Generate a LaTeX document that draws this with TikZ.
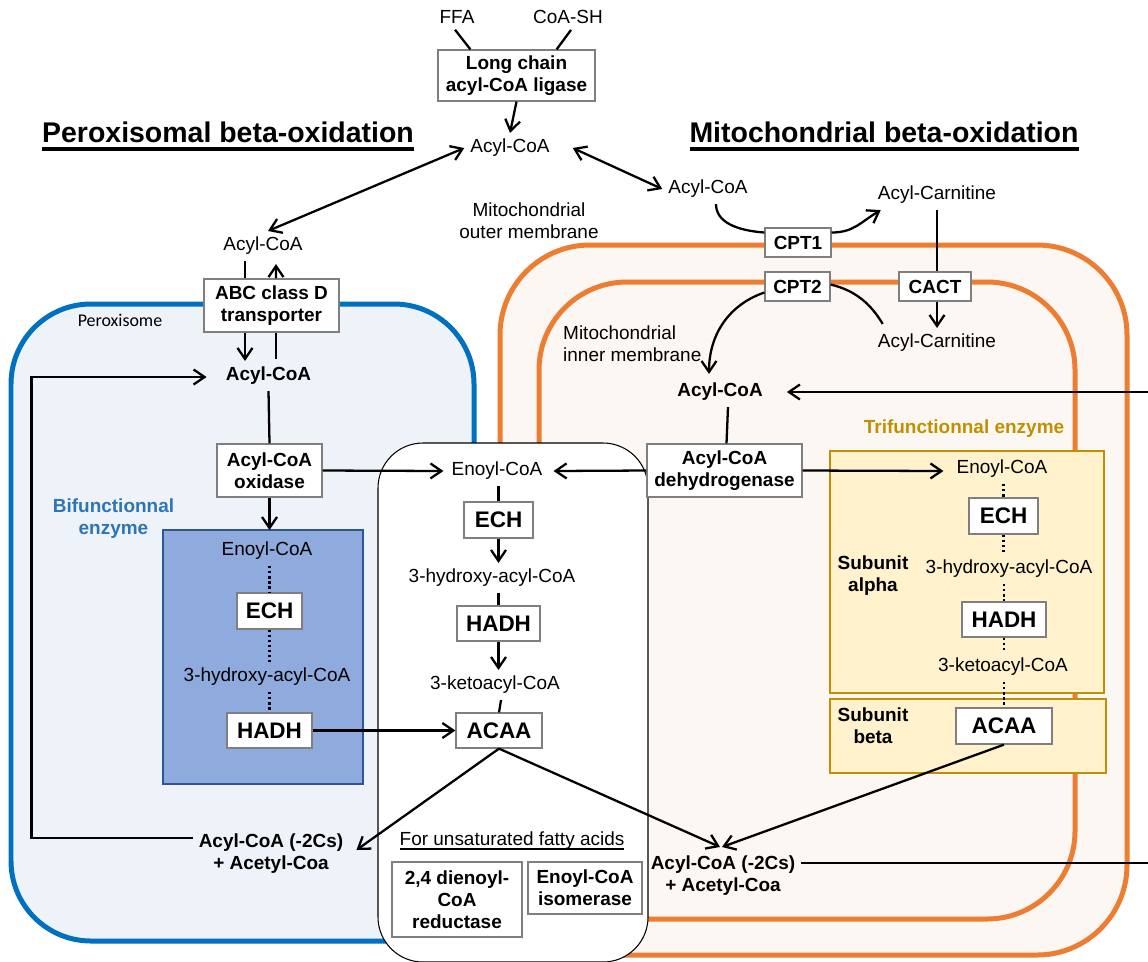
\documentclass[tikz,border=0pt]{standalone}
\usepackage{fontspec}
\setmainfont{Liberation Sans}
\newfontfamily\carlito{Carlito}
\usetikzlibrary{arrows.meta,calc}
\definecolor{pblue}{HTML}{0070C0}
\definecolor{pfill}{HTML}{EEF3FA}
\definecolor{dbfill}{HTML}{8FAADC}
\definecolor{dbdraw}{HTML}{2F5597}
\definecolor{bitext}{HTML}{2E75B6}
\definecolor{morange}{HTML}{ED7D31}
\definecolor{mfill}{HTML}{FCF7F3}
\definecolor{yfill}{HTML}{FFF2CC}
\definecolor{ydraw}{HTML}{BF9000}
\definecolor{bgray}{HTML}{7F7F7F}
\newcommand\fA{\fontsize{10.8}{12.5}\selectfont}
\newcommand\fB{\fontsize{10.8}{12.5}\selectfont\bfseries}
\newcommand\fC{\fontsize{12.8}{14}\selectfont\bfseries}
\newcommand\fT{\fontsize{16.2}{19}\selectfont\bfseries}
\newcommand\thul[3]{{\setbox0\hbox{#3}\rlap{\rule[-#1]{\wd0}{#2}}\box0}}
\tikzset{
  txt/.style={font=\fA, align=center},
  btxt/.style={font=\fB, align=center},
  box/.style={draw=bgray, line width=0.7pt, fill=white, font=\fB, align=center, inner sep=0pt},
  bigbox/.style={box, font=\fC},
  wh/.style 2 args={minimum width=#1*0.02cm, minimum height=#2*0.02cm},
  area/.style={inner sep=0pt, outer sep=0pt},
  ln/.style={line width=1.3pt},
  arr/.style={line width=1.3pt, -{Straight Barb[length=2.2mm,width=3mm]}},
  dbl/.style={line width=1.3pt, {Straight Barb[length=2.2mm,width=3mm]}-{Straight Barb[length=2.2mm,width=3mm]}},
  dot/.style={line width=1.3pt, dash pattern=on 1.3pt off 1.6pt},
}
\begin{document}
\begin{tikzpicture}[x=0.02cm,y=-0.02cm]
\useasboundingbox (0,0) rectangle (1148,961);
% compartments
\node[area, draw=pblue, fill=pfill, line width=0.1cm, rounded corners=1.6cm, wh={463}{637}] (perox) at (242.5,622.5) {};
\node[area, draw=morange, fill=mfill, line width=0.1cm, rounded corners=1.8cm, wh={627}{710}] (mitoOut) at (813.5,600) {};
\node[area, draw=morange, line width=0.1cm, rounded corners=1.76cm, wh={536}{637}] (mitoIn) at (807,600.5) {};
\node[area, draw=black, fill=white, line width=0.6pt, rounded corners=0.9cm, wh={270}{519}] (middle) at (513,702.5) {};
\node[area, draw=dbdraw, fill=dbfill, line width=1.4pt, wh={200}{254}] (bluebox) at (263,657) {};
\node[area, draw=ydraw, fill=yfill, line width=1.6pt, wh={274}{242}] (alpha) at (967,572) {};
\node[area, draw=ydraw, fill=yfill, line width=1.6pt, wh={276}{74}] (beta) at (968,736) {};

% titles and labels
\node[font=\fT] (title1) at (228,136.5) {\thul{4.6pt}{2pt}{Peroxisomal beta-oxidation}};
\node[font=\fT] (title2) at (884,136.5) {\thul{4.6pt}{2pt}{Mitochondrial beta-oxidation}};
\node[txt] (outermem) at (529,221) {Mitochondrial\\outer membrane};
\node[txt, anchor=west, align=left] (innermem) at (557,344) {Mitochondrial\\inner membrane};
\node[font=\carlito\fontsize{10.2}{12}\selectfont] (peroxlbl) at (120,320) {Peroxisome};
\node[btxt, text=bitext] (bifunc) at (113.5,519) {Bifunctionnal\\enzyme};
\node[btxt, text=ydraw] (trifunc) at (964,429) {Trifunctionnal enzyme};
\node[btxt] (subalpha) at (873,576) {Subunit\\alpha};
\node[btxt] (subbeta) at (873,726) {Subunit\\beta};

% top
\node[txt] (ffa) at (457,17) {FFA};
\node[txt] (coash) at (568,17) {CoA-SH};
\node[box, wh={157}{51}] (ligase) at (516.5,75.5) {Long chain\\acyl-CoA ligase};
\node[txt] (a0) at (510,148) {Acyl-CoA};
\node[txt] (a1) at (263,246) {Acyl-CoA};
\node[txt] (a2) at (708,189) {Acyl-CoA};

% peroxisome
\node[box, wh={135}{53}] (abc) at (271.5,305.5) {ABC class D\\transporter};
\node[btxt] (a3) at (268.5,376) {Acyl-CoA};
\node[box, wh={105}{53}] (oxidase) at (269.5,470.5) {Acyl-CoA\\oxidase};
\node[txt] (e1) at (267,551) {Enoyl-CoA};
\node[bigbox, wh={65}{36}] (ech1) at (269.5,611) {ECH};
\node[txt] (h1) at (267,677) {3-hydroxy-acyl-CoA};
\node[bigbox, wh={85}{35}] (hadh1) at (269.5,730.5) {HADH};
\node[btxt] (a4) at (271,854) {Acyl-CoA (-2Cs)\\+ Acetyl-Coa};

% middle
\node[txt] (e2) at (497,471) {Enoyl-CoA};
\node[bigbox, wh={69}{36}] (ech2) at (498.5,520) {ECH};
\node[txt] (h2) at (492,578) {3-hydroxy-acyl-CoA};
\node[bigbox, wh={83}{35}] (hadh2) at (498.5,623.5) {HADH};
\node[txt] (k2) at (495,685) {3-ketoacyl-CoA};
\node[bigbox, wh={86}{35}] (acaa2) at (499,730.5) {ACAA};
\node[txt] (unsat) at (512,841) {\thul{2.2pt}{0.8pt}{For unsaturated fatty acids}};
\node[box, wh={130}{75}] (dienoyl) at (457,899.5) {2,4 dienoyl-\\CoA\\reductase};
\node[box, wh={114}{52}] (isomerase) at (585,888) {Enoyl-CoA\\isomerase};

% mitochondria
\node[box, wh={66}{29}] (cpt1) at (798,242.5) {CPT1};
\node[box, wh={65}{29}] (cpt2) at (797.5,286.5) {CPT2};
\node[box, wh={72}{29}] (cact) at (935,286.5) {CACT};
\node[txt] (ac1) at (937,195) {Acyl-Carnitine};
\node[txt] (ac2) at (937,343) {Acyl-Carnitine};
\node[btxt] (a5) at (720,392) {Acyl-CoA};
\node[box, wh={155}{53}] (dehydro) at (724.5,470.5) {Acyl-CoA\\dehydrogenase};
\node[txt] (e3) at (1002,469) {Enoyl-CoA};
\node[bigbox, wh={69}{36}] (ech3) at (1003.5,516) {ECH};
\node[txt] (h3) at (1009,569) {3-hydroxy-acyl-CoA};
\node[bigbox, wh={84}{35}] (hadh3) at (1004,619.5) {HADH};
\node[txt] (k3) at (1003,667) {3-ketoacyl-CoA};
\node[bigbox, wh={96}{36}] (acaa3) at (1004,726) {ACAA};
\node[btxt] (a6) at (723,876) {Acyl-CoA (-2Cs)\\+ Acetyl-Coa};
\coordinate (edgeA) at (1148,392);
\coordinate (edgeB) at (1148,863);

% connectors: top
\draw[ln] ($(ffa.south)+(-2,0)$) -- ($(ligase.north west)+(33,0)$);
\draw[ln] ($(coash.south)+(3,0)$) -- ($(ligase.north east)+(-39,0)$);
\draw[arr] (ligase.south) -- (a0.north);
\draw[dbl] (a0.west) -- ($(a1.north)+(5,0)$);
\draw[dbl] ($(a0.east)+(17,0)$) -- (a2.west);

% peroxisome
\draw[ln] ($(a1.south)+(-18,0)$) -- ($(abc.north)+(-26.5,0)$);
\draw[arr] ($(abc.north)+(4.5,0)$) -- ($(a1.south)+(13,3)$);
\draw[arr] ($(abc.south)+(-26.5,0)$) -- ($(a3.north)+(-23.5,0)$);
\draw[ln] ($(a3.north)+(7.5,-2)$) -- ($(abc.south)+(4.5,0)$);
\draw[ln] (a3.south) -- (oxidase.north);
\draw[arr] (oxidase.south) -- (oxidase.south |- bluebox.north);
\draw[arr] (oxidase.east) -- ($(e2.west)+(-2,0)$);
\draw[dot] (ech1.north |- e1.south) -- (ech1.north);
\draw[dot] (ech1.south) -- (ech1.south |- h1.north);
\draw[dot] (hadh1.north |- h1.south) -- (hadh1.north);
\draw[arr] (hadh1.east) -- (acaa2.west);
\draw[arr] ($(a4.west)+(0,-16)$) -- ($(a4.west)+(-161,-16)$) |- ($(a3.west)+(-13,1)$);

% middle
\draw[ln] (ech2.north |- e2.south) -- (ech2.north);
\draw[arr] (ech2.south) -- (ech2.south |- h2.north);
\draw[ln] (hadh2.north |- h2.south) -- (hadh2.north);
\draw[arr] (hadh2.south) -- (hadh2.south |- k2.north);
\draw[ln] ($(k2.south)+(6,0)$) -- (acaa2.north);
\draw[arr] (acaa2.south) -- ($(a4.east)+(7,-4)$);
\draw[arr] (acaa2.south) -- ($(a6.north)+(-3,-3)$);

% mitochondria
\draw[ln] ($(a2.south)+(8,0)$) .. controls +(0,18) and +(-28,-2) .. ($(cpt1.west)+(0,-10)$);
\draw[arr] ($(cpt1.east)+(0,-10)$) .. controls +(22,0) and +(-20,12) .. ($(ac1.south west)+(9,0)$);
\draw[ln] (ac1.south) -- (cact.north -| ac1.south);
\draw[arr] (cact.south -| ac2.north) -- (ac2.north);
\draw[ln] ($(ac2.north west)+(11,-4)$) .. controls +(-12,-20) and +(25,6) .. ($(cpt2.east)+(0,-2)$);
\draw[arr] ($(cpt2.west)+(0,6)$) .. controls +(-35,12) and +(0,-40) .. ($(a5.north)+(-11,-3)$);
\draw[arr] (edgeA) -- ($(a5.east)+(18,0)$);
\draw[ln] ($(a5.south)+(8,0)$) -- ($(dehydro.north)+(2,0)$);
\draw[arr] (dehydro.east) -- ($(e3.west)+(-7,2)$);
\draw[arr] (dehydro.west) -- ($(e2.east)+(5,0)$);
\draw[dot] (ech3.north |- e3.south) -- (ech3.north);
\draw[dot] (ech3.south) -- (ech3.south |- h3.north);
\draw[dot] (hadh3.north |- h3.south) -- (hadh3.north);
\draw[dot] (hadh3.south) -- (hadh3.south |- k3.north);
\draw[dot] (acaa3.north |- k3.south) -- (acaa3.north);
\draw[arr] (acaa3.south) -- ($(a6.north)+(-1,-3)$);
\draw[ln] ($(a6.east)+(0,-13)$) -- (edgeB);
\end{tikzpicture}
\end{document}
